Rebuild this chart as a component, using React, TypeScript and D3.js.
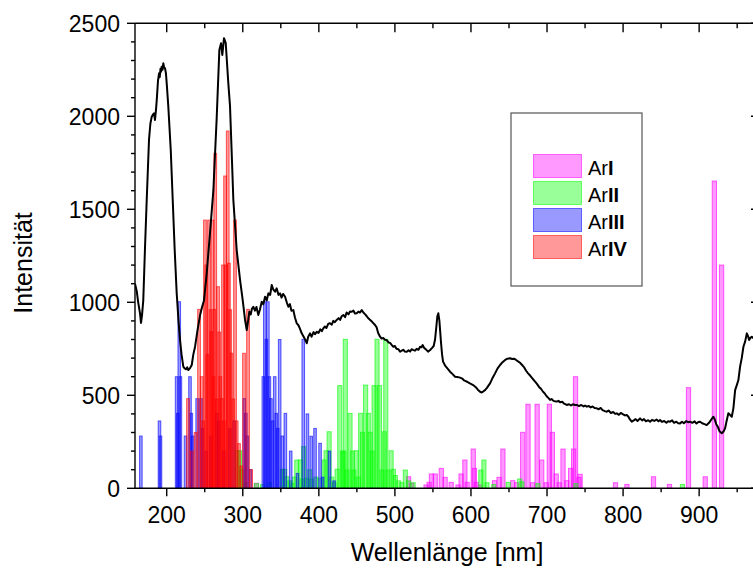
import React from "react";
import * as d3 from "d3";

// ---------- data ----------
const xTickValues = [200, 300, 400, 500, 600, 700, 800, 900];
const yTickValues = [0, 500, 1000, 1500, 2000, 2500];

const seriesNames = ["I", "II", "III", "IV"];
const seriesColors = ["#ff00ff", "#00ff00", "#0000ff", "#ff0000"];
const seriesBarWidthNm = [5.6, 5.4, 3.4, 3.6];

// measured spectrum [wavelength nm, intensity]
const spectrum: [number, number][] = [
  [158.3,1100],[160.6,1060],[162.5,1000],[164.9,940],[166.2,889],[167.5,930],[169.2,1012],[171.5,1300],[173.7,1550],[176.7,1873],[178.5,1960],[180.3,1998],[182,2010],[183.3,2016],[184.6,1980],[186,2040],[186.9,2088],[188.5,2190],[189.9,2231],[190.8,2210],[191.8,2255],[192.6,2240],[193.4,2267],[194.5,2250],[195.5,2285],[196.6,2262],[197.8,2258],[199,2230],[200,2177],[202.1,2052],[205.3,1819],[207.9,1550],[210.5,1280],[213.1,1050],[215.5,900],[217.5,797],[219.5,720],[221.8,654],[223.5,645],[225.4,640],[227,650],[228.4,636],[230.5,645],[232.9,663],[235,720],[237.2,760],[240.5,850],[243.8,930],[246.5,975],[249,1010],[252.6,1157],[256.9,1372],[261.3,1600],[265.7,1990],[269.2,2357],[271.4,2393],[273.1,2330],[275.3,2420],[277.6,2393],[281,2177],[283.2,2056],[285.2,1830],[287.6,1550],[292,1281],[296.4,1120],[299.9,1012],[303,905],[305.2,851],[307,900],[308.6,949],[310.5,935],[312,965],[313.9,976],[316,955],[318,975],[320.4,932],[322.5,960],[324.9,1003],[327,990],[329.3,1030],[331.5,1010],[333.6,1048],[336,1040],[338.1,1093],[340,1070],[342.4,1057],[344.5,1075],[347,1040],[349,1048],[351,1025],[353,1045],[355.6,1030],[357.8,1000],[359.9,976],[362,990],[364,955],[366.5,958],[368.5,920],[370.9,887],[373,878],[375,860],[377.5,833],[380,815],[382,800],[384.1,780],[386,815],[388.4,833],[390.5,815],[393,840],[395,828],[397.2,842],[399.5,835],[402,855],[404,845],[405.9,860],[408,870],[410,862],[412.5,885],[414.7,887],[417,880],[419,900],[421,893],[423.5,905],[426,915],[428,905],[430,925],[432.2,932],[434.5,920],[436.5,945],[439,935],[441,950],[443.3,949],[445.5,955],[447.5,940],[449.8,941],[452,950],[454,945],[456.4,958],[458.5,945],[461,935],[463,925],[465.1,914],[467.5,905],[470,895],[473.9,878],[476,865],[478,835],[480.5,815],[482.5,805],[485,808],[487,798],[489.3,797],[491.5,785],[494,780],[496,770],[498,761],[500,765],[502,750],[504.5,748],[506.8,734],[509,740],[511,745],[513,735],[515.6,734],[518,742],[520,735],[522,748],[524.3,743],[526.5,740],[528.5,750],[531,745],[533.1,761],[535,758],[536.5,770],[538.4,755],[540.5,748],[543.6,735],[546,742],[548.9,755],[551,765],[552.8,800],[554.5,870],[555.8,925],[557.1,941],[558.5,900],[559.6,840],[560.7,780],[562,720],[563.3,681],[566,660],[569,645],[572.5,627],[575.5,615],[579.1,600],[582,598],[585.7,595],[588.5,590],[591,580],[594.9,573],[598,565],[600.5,560],[602.8,555],[606,545],[609,530],[612,519],[614,515],[616,520],[618.5,528],[621,540],[623,552],[625.1,564],[628,590],[631.7,618],[635,645],[638.3,663],[641.5,678],[644.9,690],[648,697],[651.4,699],[654,695],[656.5,697],[659.3,690],[662,682],[664.5,675],[667.2,663],[670,650],[672.5,632],[675.1,618],[678,605],[681,590],[684.3,573],[687,560],[689.5,545],[692,535],[694.8,519],[697,510],[699.5,495],[702,485],[704,475],[706,480],[708.5,470],[710.5,468],[712.8,466],[715,470],[717.5,462],[720,465],[722.5,455],[726,448],[729,452],[731.5,445],[734,452],[736.5,448],[739.1,448],[742,442],[745,448],[748,440],[750,445],[752.3,439],[755,442],[757.5,435],[760,440],[762.5,432],[765.4,430],[768,425],[770.5,432],[773,420],[776,415],[778.6,412],[781,418],[784,405],[787,410],[789.5,400],[791.7,403],[794.5,395],[797,405],[800,398],[802.5,392],[804.9,394],[807,385],[809,370],[811.4,358],[814,365],[816.5,372],[819,362],[822.3,376],[825,365],[827.5,372],[830,360],[833,366],[835.5,358],[838,368],[841,362],[844,370],[846.5,360],[848.6,367],[851,357],[854,362],[857,352],[859,360],[861.8,358],[864.5,365],[867,352],[870,358],[872.5,350],[874.9,349],[877.5,358],[880,350],[883,362],[885.5,355],[888.1,358],[891,352],[894,360],[896.5,348],[899,356],[901.2,358],[904,350],[907,345],[910,340],[913,352],[916,370],[918.7,385],[920.5,370],[922.5,345],[924.5,331],[927,305],[929.8,296],[932,305],[934.1,322],[936,360],[938.4,403],[940.5,395],[942.9,385],[945,430],[947.3,528],[949.5,555],[951.6,582],[953.8,654],[956,700],[958.2,761],[960.5,790],[962.7,833],[964.5,815],[965.7,797],[967.5,810],[969.2,815],[971,807]
];

// line lists [wavelength nm, relative intensity]
const arI: [number, number][] = [
  [318,27],[518,62],[522,27],[541,18],[545,32],[548,77],[553,77],[561,107],[566,59],[574,32],[583,18],[587,77],[592,152],[595,32],[603,211],[604.5,107],[607,32],[612,18],[631,41],[637,59],[642,211],[655,41],[660,30],[668,301],[675,452],[681,30],[687,452],[693,152],[699,30],[703,452],[707,301],[712,77],[716,30],[721,211],[726,41],[731,107],[735,211],[737.5,600],[742,59],[743.5,75],[790,30],[805,21],[840,62],[861,21],[886,541],[908,62],[920,1652],[929.5,1200]
];
const arII: [number, number][] = [
  [292.5,202],[295.7,202],[298,100],[303,30],[318,25],[326,20],[335,30],[352,102],[355,102],[358,62],[362,40],[364.5,27],[368,60],[371,152],[375.7,152],[378,50],[380,224],[384.5,54],[388,100],[390,48],[396,60],[401.6,54],[406.8,152],[409.5,202],[413.5,304],[417,60],[420,30],[424,102],[427.5,552],[431,200],[433,200],[434.8,801],[437,98],[441,403],[444,200],[446,98],[449,202],[452,60],[455,403],[457.5,301],[461.5,555],[465,403],[467.5,301],[470,200],[472.6,552],[476.5,801],[479.8,552],[483,98],[486,304],[488,801],[491,98],[495,202],[498,102],[500.6,69],[505,40],[509,30],[513.7,98],[518,40],[524,30],[613,98],[617,152],[621,30],[630,20],[649,32],[664,50],[667,35],[688,25],[738,25],[878,21]
];
const arIII: [number, number][] = [
  [166,281],[190.5,362],[191.8,281],[213,600],[214.5,403],[216.5,1003],[218,600],[224.7,281],[230.6,600],[232.4,403],[234,281],[240,482],[245,482],[247,322],[252,200],[258,280],[265.7,403],[268,362],[275,200],[283,322],[288.5,362],[302,482],[304,403],[306,281],[310,100],[327,600],[329,1003],[331,801],[333,1003],[335,600],[337,482],[339,362],[342,600],[344,403],[346,322],[348.5,800],[352,281],[356,403],[363,200],[372,80],[379.5,801],[385,400],[390,280],[395,322],[401.6,242],[405,60],[414,200],[420,40]
];
const arIV: [number, number][] = [
  [228,482],[233,200],[238,300],[242.5,962],[246,600],[248,362],[250.3,1442],[252,1200],[253.5,720],[255.6,1442],[257.5,960],[258.5,842],[260.2,1442],[261.5,600],[262.5,962],[263.8,1801],[266,480],[267.5,1084],[269,840],[270.5,600],[272.5,482],[274,1200],[275,362],[276.7,1679],[278,1200],[280.2,1921],[281.8,1210],[283.5,960],[285.2,726],[287.5,480],[289.8,1442],[292,362],[295,240],[298,120],[301.6,726],[306.9,962],[311,100]
];
const lineSeries = [arI, arII, arIII, arIV];

// ---------- layout ----------
const W = 753;
const H = 569;
const font = "'Liberation Sans', Arial, Helvetica, sans-serif";

export default function App() {
  const x = d3.scaleLinear().domain([158.3, 980]).range([135, 760]);
  const y = d3.scaleLinear().domain([0, 2500]).range([488.3, 23.3]);
  const [x0, x1] = x.range();
  const [yb, yt] = y.range();

  const line = d3
    .line<[number, number]>()
    .x((d) => x(d[0]))
    .y((d) => y(d[1]));

  const xMinor = d3.range(250, 1000, 100);
  const yMinor = d3.range(0, 2501, 100).filter((v) => v % 500 !== 0);

  return (
    <svg
      width={W}
      height={H}
      style={{ position: "absolute", left: 0, top: 0, background: "#fff" }}
      fontFamily={font}
    >
      <rect x={0} y={0} width={W} height={H} fill="#fff" />
      <defs>
        <clipPath id="plot">
          <rect x={x0} y={yt} width={x1 - x0} height={yb - yt} />
        </clipPath>
      </defs>

      {/* bars */}
      <g clipPath="url(#plot)">
        {lineSeries.map((s, si) => (
          <g key={si}>
            {s.map(([nm, v], i) => {
              const w = seriesBarWidthNm[si];
              const xa = x(nm - w / 2);
              const xb = x(nm + w / 2);
              return (
                <rect
                  key={i}
                  x={xa}
                  y={y(v)}
                  width={xb - xa}
                  height={y(0) - y(v)}
                  fill={seriesColors[si]}
                  fillOpacity={0.4}
                  stroke={seriesColors[si]}
                  strokeOpacity={0.62}
                  strokeWidth={1}
                />
              );
            })}
          </g>
        ))}
        <path d={line(spectrum) || ""} fill="none" stroke="#000" strokeWidth={2} strokeLinejoin="round" />
      </g>

      {/* axes frame */}
      <g stroke="#000" strokeWidth={1.4} fill="none">
        <line x1={x0} x2={x0} y1={yt} y2={yb} />
        <line x1={x0} x2={x1} y1={yb} y2={yb} />
        <line x1={x0} x2={x1} y1={yt} y2={yt} />
        <line x1={x1} x2={x1} y1={yt} y2={yb} />
        {xTickValues.map((v) => (
          <g key={"xt" + v}>
            <line x1={x(v)} x2={x(v)} y1={yb} y2={yb + 8} />
            <line x1={x(v)} x2={x(v)} y1={yt} y2={yt + 9} />
          </g>
        ))}
        {xMinor.map((v) => (
          <g key={"xm" + v}>
            <line x1={x(v)} x2={x(v)} y1={yb} y2={yb + 4} />
            <line x1={x(v)} x2={x(v)} y1={yt} y2={yt + 5} />
          </g>
        ))}
        {yTickValues.map((v) => (
          <g key={"yt" + v}>
            <line x1={x0 - 8} x2={x0} y1={y(v)} y2={y(v)} />
            <line x1={x1 - 9} x2={x1} y1={y(v)} y2={y(v)} />
          </g>
        ))}
        {yMinor.map((v) => (
          <g key={"ym" + v}>
            <line x1={x0 - 4} x2={x0} y1={y(v)} y2={y(v)} />
            <line x1={x1 - 5} x2={x1} y1={y(v)} y2={y(v)} />
          </g>
        ))}
      </g>

      {/* tick labels */}
      <g fontSize={23} fill="#000">
        {xTickValues.map((v) => (
          <text key={"xl" + v} x={x(v)} y={522.7} textAnchor="middle">
            {v}
          </text>
        ))}
        {yTickValues.map((v) => (
          <text key={"yl" + v} x={120} y={y(v) + 8.2} textAnchor="end">
            {v}
          </text>
        ))}
      </g>

      {/* axis titles */}
      <text x={447} y={561} textAnchor="middle" fontSize={25} fill="#000">
        Wellenlänge [nm]
      </text>
      <text
        transform={`translate(32, 263) rotate(-90)`}
        textAnchor="middle"
        fontSize={25}
        fill="#000"
      >
        Intensität
      </text>

      {/* legend */}
      <rect x={511} y={113} width={131} height={173} fill="#fff" stroke="#555" strokeWidth={1.2} />
      {seriesNames.map((n, i) => (
        <g key={"lg" + n}>
          <rect
            x={533.5}
            y={154.5 + i * 27}
            width={48}
            height={23}
            fill={seriesColors[i]}
            fillOpacity={0.4}
            stroke={seriesColors[i]}
            strokeOpacity={0.55}
            strokeWidth={1}
          />
          <text x={588} y={175 + i * 27} fontSize={20} fill="#000">
            Ar<tspan fontWeight="bold">{n}</tspan>
          </text>
        </g>
      ))}
    </svg>
  );
}
